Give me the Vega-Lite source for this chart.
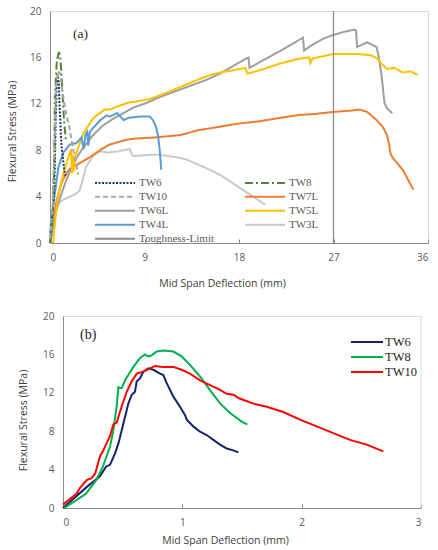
{
  "$schema": "https://vega.github.io/schema/vega-lite/v6.json",
  "background": "white",
  "padding": {"left": 6, "top": 5, "right": 0, "bottom": 0},
  "spacing": 22,
  "config": {
    "view": {"stroke": "#d9d9d9", "strokeWidth": 1},
    "axis": {
      "grid": false,
      "labelFont": "Open Sans",
      "labelFontSize": 10,
      "labelColor": "#595959",
      "labelOverlap": false,
      "titleFont": "Open Sans",
      "titleFontSize": 10.5,
      "titleFontWeight": "normal",
      "titleColor": "#404040",
      "domainColor": "#8c8c8c",
      "tickColor": "#8c8c8c"
    },
    "legend": {"symbolType": "stroke", "symbolStrokeWidth": 2, "padding": 0}
  },
  "datasets": {
    "short": [
      {"s": "TW6", "d": 0, "f": 0}, {"s": "TW6", "d": 0.1, "f": 1.1}, {"s": "TW6", "d": 0.2, "f": 2.2},
      {"s": "TW6", "d": 0.31, "f": 3.3}, {"s": "TW6", "d": 0.36, "f": 4.3}, {"s": "TW6", "d": 0.394, "f": 4.5},
      {"s": "TW6", "d": 0.436, "f": 5.7}, {"s": "TW6", "d": 0.464, "f": 6.7}, {"s": "TW6", "d": 0.492, "f": 8.1},
      {"s": "TW6", "d": 0.52, "f": 9.5}, {"s": "TW6", "d": 0.548, "f": 10.9}, {"s": "TW6", "d": 0.576, "f": 11.8},
      {"s": "TW6", "d": 0.603, "f": 12.1}, {"s": "TW6", "d": 0.618, "f": 13.2}, {"s": "TW6", "d": 0.645, "f": 13.5},
      {"s": "TW6", "d": 0.673, "f": 14.2}, {"s": "TW6", "d": 0.715, "f": 14.55}, {"s": "TW6", "d": 0.757, "f": 14.4},
      {"s": "TW6", "d": 0.813, "f": 14.0}, {"s": "TW6", "d": 0.841, "f": 13.85}, {"s": "TW6", "d": 0.869, "f": 13.0},
      {"s": "TW6", "d": 0.925, "f": 11.6}, {"s": "TW6", "d": 0.98, "f": 10.55}, {"s": "TW6", "d": 1.022, "f": 9.7},
      {"s": "TW6", "d": 1.037, "f": 9.2}, {"s": "TW6", "d": 1.092, "f": 8.5}, {"s": "TW6", "d": 1.148, "f": 7.95},
      {"s": "TW6", "d": 1.204, "f": 7.6}, {"s": "TW6", "d": 1.26, "f": 7.1}, {"s": "TW6", "d": 1.316, "f": 6.6},
      {"s": "TW6", "d": 1.372, "f": 6.2}, {"s": "TW6", "d": 1.427, "f": 6.0}, {"s": "TW6", "d": 1.469, "f": 5.8},
      {"s": "TW8", "d": 0.01, "f": 0}, {"s": "TW8", "d": 0.11, "f": 0.8}, {"s": "TW8", "d": 0.194, "f": 1.5},
      {"s": "TW8", "d": 0.278, "f": 2.9}, {"s": "TW8", "d": 0.334, "f": 4.3}, {"s": "TW8", "d": 0.394, "f": 6.4},
      {"s": "TW8", "d": 0.422, "f": 8.1}, {"s": "TW8", "d": 0.45, "f": 10.6}, {"s": "TW8", "d": 0.464, "f": 12.6},
      {"s": "TW8", "d": 0.478, "f": 12.5}, {"s": "TW8", "d": 0.492, "f": 12.5}, {"s": "TW8", "d": 0.52, "f": 13.3},
      {"s": "TW8", "d": 0.59, "f": 14.7}, {"s": "TW8", "d": 0.645, "f": 15.6}, {"s": "TW8", "d": 0.687, "f": 16.0},
      {"s": "TW8", "d": 0.715, "f": 15.8}, {"s": "TW8", "d": 0.743, "f": 15.9}, {"s": "TW8", "d": 0.785, "f": 16.3},
      {"s": "TW8", "d": 0.841, "f": 16.4}, {"s": "TW8", "d": 0.925, "f": 16.3}, {"s": "TW8", "d": 0.994, "f": 15.8},
      {"s": "TW8", "d": 1.064, "f": 14.9}, {"s": "TW8", "d": 1.148, "f": 13.7}, {"s": "TW8", "d": 1.23, "f": 12.3},
      {"s": "TW8", "d": 1.316, "f": 10.9}, {"s": "TW8", "d": 1.4, "f": 9.9}, {"s": "TW8", "d": 1.497, "f": 9.0},
      {"s": "TW8", "d": 1.545, "f": 8.7},
      {"s": "TW10", "d": 0, "f": 0.35}, {"s": "TW10", "d": 0.115, "f": 1.5}, {"s": "TW10", "d": 0.14, "f": 2.05},
      {"s": "TW10", "d": 0.198, "f": 2.9}, {"s": "TW10", "d": 0.24, "f": 3.1}, {"s": "TW10", "d": 0.27, "f": 3.6},
      {"s": "TW10", "d": 0.31, "f": 5.4}, {"s": "TW10", "d": 0.334, "f": 5.9}, {"s": "TW10", "d": 0.394, "f": 7.5},
      {"s": "TW10", "d": 0.422, "f": 8.7}, {"s": "TW10", "d": 0.45, "f": 8.9}, {"s": "TW10", "d": 0.492, "f": 10.6},
      {"s": "TW10", "d": 0.534, "f": 12.1}, {"s": "TW10", "d": 0.576, "f": 13.2}, {"s": "TW10", "d": 0.618, "f": 14.0},
      {"s": "TW10", "d": 0.673, "f": 14.2}, {"s": "TW10", "d": 0.73, "f": 14.55}, {"s": "TW10", "d": 0.77, "f": 14.8},
      {"s": "TW10", "d": 0.84, "f": 14.7}, {"s": "TW10", "d": 0.925, "f": 14.7}, {"s": "TW10", "d": 0.994, "f": 14.4},
      {"s": "TW10", "d": 1.064, "f": 14.0}, {"s": "TW10", "d": 1.148, "f": 13.3}, {"s": "TW10", "d": 1.232, "f": 12.8},
      {"s": "TW10", "d": 1.3, "f": 12.4}, {"s": "TW10", "d": 1.372, "f": 11.9}, {"s": "TW10", "d": 1.427, "f": 11.8},
      {"s": "TW10", "d": 1.48, "f": 11.4}, {"s": "TW10", "d": 1.59, "f": 10.9}, {"s": "TW10", "d": 1.707, "f": 10.55},
      {"s": "TW10", "d": 1.846, "f": 10.0}, {"s": "TW10", "d": 1.986, "f": 9.2}, {"s": "TW10", "d": 2.126, "f": 8.5},
      {"s": "TW10", "d": 2.265, "f": 7.8}, {"s": "TW10", "d": 2.405, "f": 7.1}, {"s": "TW10", "d": 2.545, "f": 6.6},
      {"s": "TW10", "d": 2.684, "f": 5.9}
    ],
    "long": [
      {"s": "TW3L", "d": 0, "f": 0}, {"s": "TW3L", "d": 0.2, "f": 1.5}, {"s": "TW3L", "d": 0.45, "f": 2.8},
      {"s": "TW3L", "d": 0.7, "f": 3.4}, {"s": "TW3L", "d": 1.2, "f": 3.7}, {"s": "TW3L", "d": 1.9, "f": 4.0},
      {"s": "TW3L", "d": 2.4, "f": 4.2}, {"s": "TW3L", "d": 2.8, "f": 4.5}, {"s": "TW3L", "d": 3.1, "f": 5.4},
      {"s": "TW3L", "d": 3.4, "f": 6.5}, {"s": "TW3L", "d": 3.8, "f": 7.1}, {"s": "TW3L", "d": 4.2, "f": 7.6},
      {"s": "TW3L", "d": 4.8, "f": 7.9}, {"s": "TW3L", "d": 5.5, "f": 7.8}, {"s": "TW3L", "d": 6.5, "f": 7.9},
      {"s": "TW3L", "d": 7.0, "f": 8.0}, {"s": "TW3L", "d": 7.6, "f": 8.1}, {"s": "TW3L", "d": 7.8, "f": 7.6},
      {"s": "TW3L", "d": 8.0, "f": 7.5}, {"s": "TW3L", "d": 9.5, "f": 7.6}, {"s": "TW3L", "d": 10.5, "f": 7.6},
      {"s": "TW3L", "d": 12, "f": 7.4}, {"s": "TW3L", "d": 13, "f": 7.2}, {"s": "TW3L", "d": 14.5, "f": 6.6},
      {"s": "TW3L", "d": 15.5, "f": 6.2}, {"s": "TW3L", "d": 16.5, "f": 5.7}, {"s": "TW3L", "d": 18, "f": 4.8},
      {"s": "TW3L", "d": 19.5, "f": 3.9}, {"s": "TW3L", "d": 20.5, "f": 3.3},
      {"s": "TW7L", "d": 0.05, "f": 0}, {"s": "TW7L", "d": 0.3, "f": 1.8}, {"s": "TW7L", "d": 0.64, "f": 3.7},
      {"s": "TW7L", "d": 1.1, "f": 5.2}, {"s": "TW7L", "d": 1.5, "f": 5.9}, {"s": "TW7L", "d": 1.9, "f": 6.4},
      {"s": "TW7L", "d": 2.86, "f": 6.9}, {"s": "TW7L", "d": 3.8, "f": 7.4}, {"s": "TW7L", "d": 4.76, "f": 8.0},
      {"s": "TW7L", "d": 5.7, "f": 8.5}, {"s": "TW7L", "d": 7.3, "f": 8.9}, {"s": "TW7L", "d": 8.1, "f": 9.0},
      {"s": "TW7L", "d": 10, "f": 9.1}, {"s": "TW7L", "d": 12.4, "f": 9.3}, {"s": "TW7L", "d": 14, "f": 9.7},
      {"s": "TW7L", "d": 16, "f": 10.0}, {"s": "TW7L", "d": 18, "f": 10.3}, {"s": "TW7L", "d": 20, "f": 10.5},
      {"s": "TW7L", "d": 22, "f": 10.8}, {"s": "TW7L", "d": 23.8, "f": 11.05}, {"s": "TW7L", "d": 25, "f": 11.1},
      {"s": "TW7L", "d": 27, "f": 11.3}, {"s": "TW7L", "d": 28.5, "f": 11.4}, {"s": "TW7L", "d": 29.5, "f": 11.5},
      {"s": "TW7L", "d": 30.2, "f": 11.3}, {"s": "TW7L", "d": 31.1, "f": 10.6}, {"s": "TW7L", "d": 31.7, "f": 10.0},
      {"s": "TW7L", "d": 32.1, "f": 9.3}, {"s": "TW7L", "d": 32.3, "f": 8.5}, {"s": "TW7L", "d": 32.4, "f": 7.8},
      {"s": "TW7L", "d": 32.6, "f": 7.4}, {"s": "TW7L", "d": 33.6, "f": 6.3}, {"s": "TW7L", "d": 34.6, "f": 4.6},
      {"s": "TW6L", "d": 0, "f": 0}, {"s": "TW6L", "d": 0.3, "f": 1.5}, {"s": "TW6L", "d": 0.6, "f": 2.8},
      {"s": "TW6L", "d": 1, "f": 4.0}, {"s": "TW6L", "d": 1.5, "f": 5.3}, {"s": "TW6L", "d": 2, "f": 6.4},
      {"s": "TW6L", "d": 2.5, "f": 7.3}, {"s": "TW6L", "d": 3, "f": 8.0}, {"s": "TW6L", "d": 4, "f": 9.2},
      {"s": "TW6L", "d": 5, "f": 10.1}, {"s": "TW6L", "d": 6, "f": 10.7}, {"s": "TW6L", "d": 7, "f": 11.2},
      {"s": "TW6L", "d": 8, "f": 11.7}, {"s": "TW6L", "d": 9, "f": 12.0}, {"s": "TW6L", "d": 10.5, "f": 12.6},
      {"s": "TW6L", "d": 12, "f": 13.1}, {"s": "TW6L", "d": 13.8, "f": 13.7}, {"s": "TW6L", "d": 15, "f": 14.1},
      {"s": "TW6L", "d": 16.2, "f": 14.6}, {"s": "TW6L", "d": 17.5, "f": 15.3}, {"s": "TW6L", "d": 18.9, "f": 16.0},
      {"s": "TW6L", "d": 19.0, "f": 15.1}, {"s": "TW6L", "d": 20, "f": 15.6}, {"s": "TW6L", "d": 22, "f": 16.6},
      {"s": "TW6L", "d": 23.9, "f": 17.6}, {"s": "TW6L", "d": 24.1, "f": 17.7}, {"s": "TW6L", "d": 24.2, "f": 16.6},
      {"s": "TW6L", "d": 25, "f": 17.1}, {"s": "TW6L", "d": 26, "f": 17.6}, {"s": "TW6L", "d": 27, "f": 17.95},
      {"s": "TW6L", "d": 28, "f": 18.2}, {"s": "TW6L", "d": 29, "f": 18.4}, {"s": "TW6L", "d": 29.15, "f": 18.3},
      {"s": "TW6L", "d": 29.25, "f": 16.9}, {"s": "TW6L", "d": 30.2, "f": 17.3}, {"s": "TW6L", "d": 31.1, "f": 16.9},
      {"s": "TW6L", "d": 31.3, "f": 16.1}, {"s": "TW6L", "d": 31.6, "f": 14.3}, {"s": "TW6L", "d": 31.85, "f": 12.1},
      {"s": "TW6L", "d": 32.1, "f": 11.6}, {"s": "TW6L", "d": 32.6, "f": 11.2},
      {"s": "TW5L", "d": 0.3, "f": 0}, {"s": "TW5L", "d": 0.5, "f": 2.0}, {"s": "TW5L", "d": 0.7, "f": 3.6},
      {"s": "TW5L", "d": 1.0, "f": 5.0}, {"s": "TW5L", "d": 1.4, "f": 6.4}, {"s": "TW5L", "d": 1.9, "f": 7.8},
      {"s": "TW5L", "d": 2.0, "f": 8.1}, {"s": "TW5L", "d": 2.1, "f": 6.0}, {"s": "TW5L", "d": 2.2, "f": 7.6},
      {"s": "TW5L", "d": 2.3, "f": 6.2}, {"s": "TW5L", "d": 2.45, "f": 7.6}, {"s": "TW5L", "d": 2.8, "f": 8.5},
      {"s": "TW5L", "d": 3.2, "f": 9.5}, {"s": "TW5L", "d": 4.1, "f": 10.75}, {"s": "TW5L", "d": 5.2, "f": 11.5},
      {"s": "TW5L", "d": 5.7, "f": 11.5}, {"s": "TW5L", "d": 6.5, "f": 11.8}, {"s": "TW5L", "d": 7.5, "f": 12.1},
      {"s": "TW5L", "d": 9.5, "f": 12.4}, {"s": "TW5L", "d": 11.5, "f": 13.1}, {"s": "TW5L", "d": 13.6, "f": 13.9},
      {"s": "TW5L", "d": 15, "f": 14.4}, {"s": "TW5L", "d": 16.2, "f": 14.7}, {"s": "TW5L", "d": 17.5, "f": 14.9},
      {"s": "TW5L", "d": 18.6, "f": 15.1}, {"s": "TW5L", "d": 18.8, "f": 14.6}, {"s": "TW5L", "d": 20, "f": 14.9},
      {"s": "TW5L", "d": 22, "f": 15.5}, {"s": "TW5L", "d": 23.8, "f": 15.9}, {"s": "TW5L", "d": 24.7, "f": 16.0},
      {"s": "TW5L", "d": 24.8, "f": 15.5}, {"s": "TW5L", "d": 25, "f": 15.9}, {"s": "TW5L", "d": 27, "f": 16.3},
      {"s": "TW5L", "d": 29.2, "f": 16.3}, {"s": "TW5L", "d": 30.5, "f": 16.2}, {"s": "TW5L", "d": 31.2, "f": 15.9},
      {"s": "TW5L", "d": 31.5, "f": 15.5}, {"s": "TW5L", "d": 32.1, "f": 15.0}, {"s": "TW5L", "d": 32.8, "f": 15.1},
      {"s": "TW5L", "d": 33.6, "f": 14.7}, {"s": "TW5L", "d": 34.3, "f": 14.8}, {"s": "TW5L", "d": 35, "f": 14.5},
      {"s": "TW4L", "d": 0, "f": 0.8}, {"s": "TW4L", "d": 0.2, "f": 2.5}, {"s": "TW4L", "d": 0.5, "f": 4.5},
      {"s": "TW4L", "d": 0.8, "f": 6.5}, {"s": "TW4L", "d": 1.27, "f": 7.8}, {"s": "TW4L", "d": 1.9, "f": 8.5},
      {"s": "TW4L", "d": 2.5, "f": 8.6}, {"s": "TW4L", "d": 3.0, "f": 9.1}, {"s": "TW4L", "d": 3.2, "f": 8.1},
      {"s": "TW4L", "d": 3.4, "f": 9.4}, {"s": "TW4L", "d": 3.55, "f": 9.6}, {"s": "TW4L", "d": 3.65, "f": 8.4},
      {"s": "TW4L", "d": 3.8, "f": 9.6}, {"s": "TW4L", "d": 4.0, "f": 9.8}, {"s": "TW4L", "d": 4.8, "f": 10.6},
      {"s": "TW4L", "d": 5.4, "f": 11.0}, {"s": "TW4L", "d": 5.7, "f": 10.9}, {"s": "TW4L", "d": 6.4, "f": 11.2},
      {"s": "TW4L", "d": 6.6, "f": 11.0}, {"s": "TW4L", "d": 7.0, "f": 10.6}, {"s": "TW4L", "d": 7.5, "f": 10.8},
      {"s": "TW4L", "d": 8.6, "f": 10.9}, {"s": "TW4L", "d": 9.5, "f": 10.9}, {"s": "TW4L", "d": 9.8, "f": 10.6},
      {"s": "TW4L", "d": 10.1, "f": 10.0}, {"s": "TW4L", "d": 10.3, "f": 9.2}, {"s": "TW4L", "d": 10.45, "f": 8.0},
      {"s": "TW4L", "d": 10.6, "f": 6.3},
      {"s": "Toughness-Limit", "d": 27, "f": 0}, {"s": "Toughness-Limit", "d": 27.0001, "f": 20}
    ]
  },
  "resolve": {"scale": {"color": "independent", "strokeDash": "independent"}, "legend": {"color": "independent", "strokeDash": "independent"}},
  "vconcat": [
    {
      "width": 378,
      "height": 232,
      "title": {"text": "(a)", "anchor": "start", "frame": "group", "orient": "top", "offset": -22, "dx": 23, "dy": 19, "baseline": "middle", "font": "Liberation Serif", "fontSize": 13.5, "fontWeight": "normal", "color": "#262626"},
      "encoding": {
        "x": {"field": "d", "type": "quantitative", "scale": {"domain": [0, 36], "nice": false},
              "axis": {"values": [0, 9, 18, 27, 36], "title": "Mid Span Deflection (mm)", "tickSize": -4, "labelPadding": 13, "titleX": 172, "titleY": 40, "titleBaseline": "middle"}},
        "y": {"field": "f", "type": "quantitative", "scale": {"domain": [0, 20], "nice": false},
              "axis": {"values": [0, 4, 8, 12, 16, 20], "title": "Flexural Stress (MPa)", "ticks": false, "labelPadding": 9, "titleX": -38, "titleY": 120, "titleBaseline": "middle", "titleAlign": "center"}},
        "color": {"field": "s", "type": "nominal",
                  "scale": {"domain": ["TW6", "TW8", "TW10", "TW7L", "TW6L", "TW5L", "TW4L", "TW3L", "Toughness-Limit"],
                            "range": ["#1f3864", "#548235", "#a6a6a6", "#ed7d31", "#9e9e9e", "#ffc000", "#5b9bd5", "#c9c9c9", "#8c8c8c"]},
                  "legend": {"title": null, "orient": "none", "direction": "horizontal", "legendX": 44, "legendY": 166, "columns": 2, "columnPadding": 29, "rowPadding": 1, "clipHeight": 11.3, "symbolSize": 1600, "labelOffset": 3, "labelFont": "Liberation Serif", "labelFontSize": 11, "labelColor": "#595959"}},
        "strokeDash": {"field": "s", "type": "nominal",
                  "scale": {"domain": ["TW6", "TW8", "TW10", "TW7L", "TW6L", "TW5L", "TW4L", "TW3L", "Toughness-Limit"],
                            "range": [[2, 1.5], [8, 3, 2, 3], [5, 3], [1, 0], [1, 0], [1, 0], [1, 0], [1, 0], [1, 0]]},
                  "legend": {"title": null, "orient": "none", "direction": "horizontal", "legendX": 44, "legendY": 166, "columns": 2, "columnPadding": 29, "rowPadding": 1, "clipHeight": 11.3, "symbolSize": 1600, "labelOffset": 3, "labelFont": "Liberation Serif", "labelFontSize": 11, "labelColor": "#595959"}}
      },
      "layer": [
        {"data": {"name": "long"}, "transform": [{"filter": "datum.s !== 'Toughness-Limit'"}], "mark": {"type": "line", "strokeWidth": 2}},
        {"data": {"name": "short"}, "mark": {"type": "line", "strokeWidth": 2}},
        {"data": {"name": "long"}, "transform": [{"filter": "datum.s === 'Toughness-Limit'"}], "mark": {"type": "line", "strokeWidth": 1.3}}
      ]
    },
    {
      "width": 371,
      "height": 192,
      "view": {"stroke": null},
      "title": {"text": "(b)", "anchor": "start", "frame": "group", "orient": "top", "offset": -16, "dx": 30, "dy": 22, "baseline": "middle", "font": "Liberation Serif", "fontSize": 14, "fontWeight": "normal", "color": "#262626"},
      "resolve": {"axis": {"x": "independent"}},
      "layer": [
        {"data": {"name": "short"}, "mark": {"type": "line", "strokeWidth": 2},
         "encoding": {
           "x": {"field": "d", "type": "quantitative", "scale": {"domain": [0, 3], "range": [13, 371], "nice": false, "zero": false},
                 "axis": {"values": [0, 1, 2, 3], "format": "d", "title": "Mid Span Deflection (mm)", "tickSize": -4, "labelPadding": 13, "titleX": 175, "titleY": 32, "titleBaseline": "middle"}},
           "y": {"field": "f", "type": "quantitative", "scale": {"domain": [0, 20], "nice": false},
                 "axis": {"values": [0, 4, 8, 12, 16, 20], "labelOverlap": false, "title": "Flexural Stress (MPa)", "ticks": false, "offset": -13, "labelPadding": 9, "titleX": -40, "titleY": 104, "titleBaseline": "middle", "titleAlign": "center"}},
           "color": {"field": "s", "type": "nominal",
                     "scale": {"domain": ["TW6", "TW8", "TW10"], "range": ["#15246a", "#00b050", "#ff0000"]},
                     "legend": {"title": null, "orient": "none", "legendX": 300, "legendY": 19.5, "rowPadding": 2, "clipHeight": 13, "symbolSize": 1024, "labelOffset": 1, "labelFont": "Liberation Serif", "labelFontSize": 12.5, "labelColor": "#262626"}}
         }},
        {"data": {"values": [{}]}, "mark": {"type": "rule", "color": "#d9d9d9", "strokeWidth": 1},
         "encoding": {
           "x": {"datum": 3, "type": "quantitative",
                 "axis": {"orient": "top", "labels": false, "ticks": false, "title": null, "domainColor": "#d9d9d9"}}
         }}
      ]
    }
  ]
}
